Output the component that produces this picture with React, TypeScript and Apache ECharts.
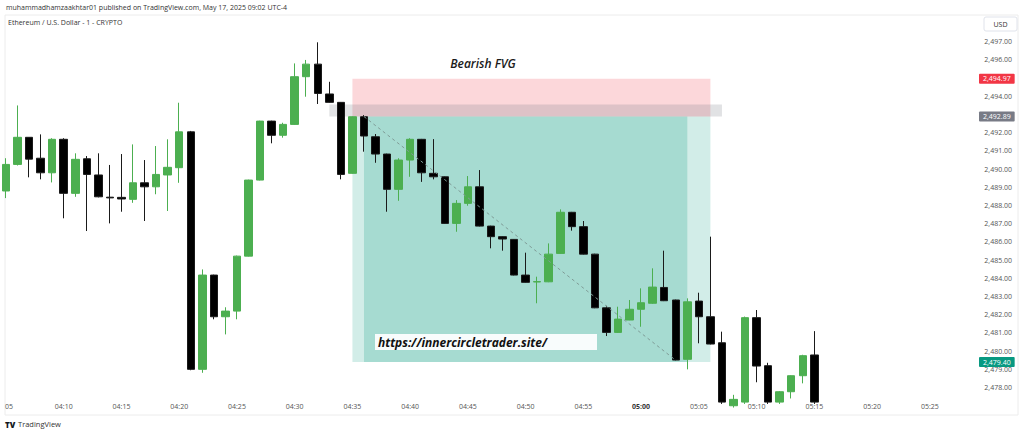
import React, { useEffect, useRef } from "react";
import * as echarts from "echarts";

// Time categories 04:05 .. 05:29 (one-minute candles)
const categories: string[] = [
  "04:05","04:06","04:07","04:08","04:09","04:10","04:11","04:12","04:13","04:14",
  "04:15","04:16","04:17","04:18","04:19","04:20","04:21","04:22","04:23","04:24",
  "04:25","04:26","04:27","04:28","04:29","04:30","04:31","04:32","04:33","04:34",
  "04:35","04:36","04:37","04:38","04:39","04:40","04:41","04:42","04:43","04:44",
  "04:45","04:46","04:47","04:48","04:49","04:50","04:51","04:52","04:53","04:54",
  "04:55","04:56","04:57","04:58","04:59","05:00","05:01","05:02","05:03","05:04",
  "05:05","05:06","05:07","05:08","05:09","05:10","05:11","05:12","05:13","05:14",
  "05:15","05:16","05:17","05:18","05:19","05:20","05:21","05:22","05:23","05:24",
  "05:25","05:26","05:27","05:28","05:29",
];

// OHLC: [open, close, low, high]
const ohlc: number[][] = [
  [2488.8, 2490.26, 2488.41, 2490.6],
  [2490.26, 2491.75, 2490.2, 2493.5],
  [2491.75, 2490.55, 2489.55, 2491.75],
  [2490.6, 2489.8, 2489.44, 2491.91],
  [2489.8, 2491.64, 2489.27, 2491.7],
  [2491.64, 2488.67, 2487.3, 2491.7],
  [2488.67, 2490.54, 2488.48, 2490.87],
  [2490.57, 2489.71, 2486.6, 2490.72],
  [2489.68, 2488.48, 2488.45, 2490.87],
  [2488.46, 2488.42, 2487.02, 2490.23],
  [2488.45, 2488.36, 2487.66, 2490.83],
  [2488.34, 2489.25, 2488.15, 2491.36],
  [2489.25, 2489.03, 2487.15, 2490.5],
  [2489.03, 2489.71, 2488.62, 2491.27],
  [2489.68, 2490.1, 2487.7, 2491.64],
  [2490.08, 2492.05, 2489.25, 2493.65],
  [2492.05, 2479.0, 2478.95, 2492.1],
  [2479.0, 2484.18, 2478.81, 2484.49],
  [2484.18, 2481.89, 2481.75, 2484.2],
  [2481.89, 2482.2, 2480.92, 2482.41],
  [2482.2, 2485.22, 2481.75, 2485.25],
  [2485.22, 2489.4, 2485.2, 2489.42],
  [2489.4, 2492.64, 2489.38, 2492.66],
  [2492.64, 2491.86, 2491.42, 2492.66],
  [2491.86, 2492.46, 2491.73, 2492.55],
  [2492.46, 2495.08, 2492.44, 2495.81],
  [2495.08, 2495.77, 2493.98, 2496.0],
  [2495.77, 2494.16, 2493.58, 2496.97],
  [2494.13, 2493.67, 2493.65, 2494.8],
  [2493.67, 2489.71, 2489.44, 2493.69],
  [2489.77, 2492.88, 2489.75, 2492.9],
  [2492.88, 2491.82, 2490.96, 2492.97],
  [2491.78, 2490.83, 2490.35, 2491.93],
  [2490.83, 2488.89, 2487.66, 2490.85],
  [2488.89, 2490.5, 2488.26, 2490.6],
  [2490.5, 2491.64, 2489.58, 2491.7],
  [2491.64, 2489.8, 2489.3, 2491.66],
  [2489.77, 2489.58, 2489.44, 2491.65],
  [2489.58, 2487.02, 2487.0, 2489.6],
  [2487.02, 2488.12, 2486.56, 2488.3],
  [2488.12, 2489.03, 2487.99, 2489.62],
  [2489.03, 2486.87, 2486.85, 2489.95],
  [2486.87, 2486.29, 2485.65, 2486.89],
  [2486.29, 2486.16, 2485.52, 2486.31],
  [2486.14, 2484.18, 2484.16, 2486.16],
  [2484.18, 2483.78, 2483.76, 2485.41],
  [2483.8, 2483.82, 2482.63, 2484.09],
  [2483.81, 2485.33, 2483.79, 2485.92],
  [2485.37, 2487.63, 2485.35, 2487.79],
  [2487.63, 2486.84, 2486.62, 2487.65],
  [2486.84, 2485.33, 2485.31, 2487.15],
  [2485.33, 2482.38, 2482.36, 2485.35],
  [2482.38, 2481.03, 2480.83, 2482.49],
  [2481.03, 2481.76, 2481.0, 2482.44],
  [2481.71, 2482.3, 2481.7, 2482.81],
  [2482.3, 2482.66, 2481.34, 2483.45],
  [2482.63, 2483.52, 2482.6, 2484.55],
  [2483.5, 2482.77, 2482.75, 2485.52],
  [2482.81, 2479.51, 2479.49, 2482.83],
  [2479.55, 2482.71, 2479.0, 2482.9],
  [2482.75, 2481.89, 2480.43, 2483.21],
  [2481.89, 2480.39, 2480.37, 2486.29],
  [2480.46, 2477.2, 2477.1, 2481.07],
  [2477.0, 2477.35, 2476.9, 2477.6],
  [2477.2, 2481.84, 2477.1, 2481.9],
  [2481.84, 2479.18, 2478.29, 2482.26],
  [2479.2, 2477.2, 2477.1, 2479.36],
  [2477.2, 2477.77, 2477.1, 2477.8],
  [2477.77, 2478.65, 2477.4, 2478.67],
  [2478.65, 2479.75, 2478.23, 2479.8],
  [2479.79, 2477.2, 2477.1, 2481.1],
];

// Price axis tick labels
const priceTicks: number[] = [
  2478, 2479, 2480, 2481, 2482, 2483, 2484, 2485, 2486, 2487,
  2488, 2489, 2490, 2491, 2492, 2493, 2494, 2495, 2496, 2497,
];

// Drawing levels
const fvgTop = 2494.97;
const fvgBottom = 2492.89;
const targetPrice = 2479.4;
const fvgStart = "04:35";
const fvgEnd = "05:06";
const activeStart = "04:36";
const activeEnd = "05:04";
const bandStart = "04:33";
const bandEnd = "05:07";
const bandTop = 2493.55;
const trendStart: [string, number] = ["04:36", 2492.89];
const trendEnd: [string, number] = ["05:03", 2479.5];

const FONT = "'Open Sans', 'Noto Sans', sans-serif";

const fmtPrice = (v: number) =>
  v.toLocaleString("en-US", { minimumFractionDigits: 2, maximumFractionDigits: 2 });

export default function App() {
  const ref = useRef<HTMLDivElement>(null);

  useEffect(() => {
    if (!ref.current) return;
    const chart = echarts.init(ref.current, null, { renderer: "svg" });

    const tagLabel = (bg: string) => ({
      show: true,
      position: "end" as const,
      distance: 3,
      formatter: (p: any) => fmtPrice(p.value),
      backgroundColor: bg,
      color: "#ffffff",
      opacity: 1,
      fontSize: 7,
      fontFamily: FONT,
      padding: [2, 4, 1, 4],
      borderRadius: 1,
    });
    const hiddenLine = { color: "rgba(0,0,0,0)", width: 0 };

    chart.setOption({
      animation: false,
      backgroundColor: "#ffffff",
      textStyle: { fontFamily: FONT },
      grid: { left: 6, top: 15, width: 970, height: 384, containLabel: false },
      xAxis: {
        type: "category",
        data: categories,
        boundaryGap: false,
        axisLine: { show: false },
        axisTick: { show: false },
        splitLine: { show: false },
        axisLabel: {
          interval: (index: number, value: string) =>
            index > 0 && parseInt(value.slice(3), 10) % 5 === 0,
          fontSize: 7,
          color: "#555",
          margin: 4,
          fontFamily: FONT,
          formatter: (v: string) => (v === "05:00" ? "{b|05:00}" : v),
          rich: { b: { fontWeight: "bold", fontSize: 7, color: "#333", fontFamily: FONT } },
        },
      },
      yAxis: {
        type: "value",
        position: "right",
        min: 2477.37,
        max: 2498.47,
        scale: true,
        axisLine: { show: false },
        axisTick: { show: false },
        splitLine: { show: false },
        axisLabel: {
          customValues: priceTicks,
          showMinLabel: true,
          showMaxLabel: true,
          formatter: (v: number) => fmtPrice(v),
          align: "right",
          margin: 36,
          fontSize: 7,
          color: "#555",
          fontFamily: FONT,
        },
      },
      series: [
        {
          type: "line",
          z: 1,
          data: [],
          symbol: "none",
          silent: true,
          markArea: {
            silent: true,
            data: [
              [
                { xAxis: fvgStart, yAxis: fvgTop, itemStyle: { color: "rgba(242,54,69,0.2)" } },
                { xAxis: fvgEnd, yAxis: fvgBottom },
              ],
              [
                { xAxis: fvgStart, yAxis: fvgBottom, itemStyle: { color: "rgba(8,153,129,0.18)" } },
                { xAxis: fvgEnd, yAxis: targetPrice },
              ],
              [
                { xAxis: activeStart, yAxis: fvgBottom, itemStyle: { color: "rgba(8,153,129,0.22)" } },
                { xAxis: activeEnd, yAxis: targetPrice },
              ],
              [
                { xAxis: bandStart, yAxis: bandTop, itemStyle: { color: "rgba(120,123,134,0.22)" } },
                { xAxis: bandEnd, yAxis: fvgBottom },
              ],
            ],
          },
          markLine: {
            silent: true,
            symbol: ["none", "none"],
            data: [
              [
                {
                  coord: trendStart,
                  lineStyle: { type: [3, 3], color: "#7f9c97", width: 1 },
                  label: { show: false },
                },
                { coord: trendEnd },
              ],
              { yAxis: fvgTop, lineStyle: hiddenLine, label: tagLabel("#f23645") },
              { yAxis: fvgBottom, lineStyle: hiddenLine, label: tagLabel("#787b86") },
              { yAxis: targetPrice, lineStyle: hiddenLine, label: tagLabel("#089981") },
            ],
          },
        },
        {
          type: "candlestick",
          z: 3,
          clip: true,
          barWidth: 8,
          data: ohlc,
          itemStyle: {
            color: "#4caf50",
            color0: "#000000",
            borderColor: "#4caf50",
            borderColor0: "#1a1a1a",
            borderWidth: 1,
          },
        },
      ],
      graphic: [
        {
          type: "rect",
          silent: true,
          z: -10,
          shape: { x: 5, y: 15, width: 1013, height: 400 },
          style: { fill: "none", stroke: "#ececec", lineWidth: 1 },
        },
        {
          type: "text",
          x: 6,
          y: 4,
          style: {
            text: "muhammadhamzaakhtar01 published on TradingView.com, May 17, 2025 09:02 UTC-4",
            fontSize: 7,
            fontFamily: FONT,
            fill: "#333",
          },
        },
        {
          type: "text",
          x: 8,
          y: 19,
          style: {
            text: "Ethereum / U.S. Dollar - 1 - CRYPTO",
            fontSize: 7,
            fontFamily: FONT,
            fill: "#333",
          },
        },
        {
          type: "text",
          x: 483,
          y: 63,
          style: {
            text: "Bearish FVG",
            fontSize: 12,
            fontStyle: "italic",
            fontWeight: 600,
            fontFamily: FONT,
            fill: "#1a1a1a",
            align: "center",
            verticalAlign: "middle",
          },
        },
        {
          type: "rect",
          z: 10,
          shape: { x: 375, y: 334, width: 222, height: 16 },
          style: { fill: "rgba(255,255,255,0.92)" },
        },
        {
          type: "text",
          z: 11,
          x: 378,
          y: 342,
          style: {
            text: "https://innercircletrader.site/",
            fontSize: 12,
            fontStyle: "italic",
            fontWeight: "bold",
            fontFamily: FONT,
            fill: "#111",
            verticalAlign: "middle",
          },
        },
        {
          type: "text",
          x: 5,
          y: 403,
          style: { text: "05", fontSize: 7, fontFamily: FONT, fill: "#555" },
        },
        {
          type: "rect",
          shape: { x: 984, y: 17, width: 33, height: 14, r: 2 },
          style: { fill: "#fff", stroke: "#e0e3eb", lineWidth: 1 },
        },
        {
          type: "text",
          x: 1000.5,
          y: 24,
          style: {
            text: "USD",
            fontSize: 7,
            fontFamily: FONT,
            fill: "#333",
            align: "center",
            verticalAlign: "middle",
          },
        },
        {
          type: "text",
          x: 5,
          y: 424,
          style: {
            text: "TV",
            fontSize: 8,
            fontWeight: 900,
            fontFamily: FONT,
            fill: "#131722",
            verticalAlign: "middle",
          },
        },
        {
          type: "text",
          x: 18,
          y: 424,
          style: {
            text: "TradingView",
            fontSize: 7.5,
            fontFamily: FONT,
            fill: "#333",
            verticalAlign: "middle",
          },
        },
      ],
    });

    return () => chart.dispose();
  }, []);

  return (
    <div
      ref={ref}
      style={{ position: "fixed", left: 0, top: 0, width: 1024, height: 435, background: "#fff" }}
    />
  );
}
